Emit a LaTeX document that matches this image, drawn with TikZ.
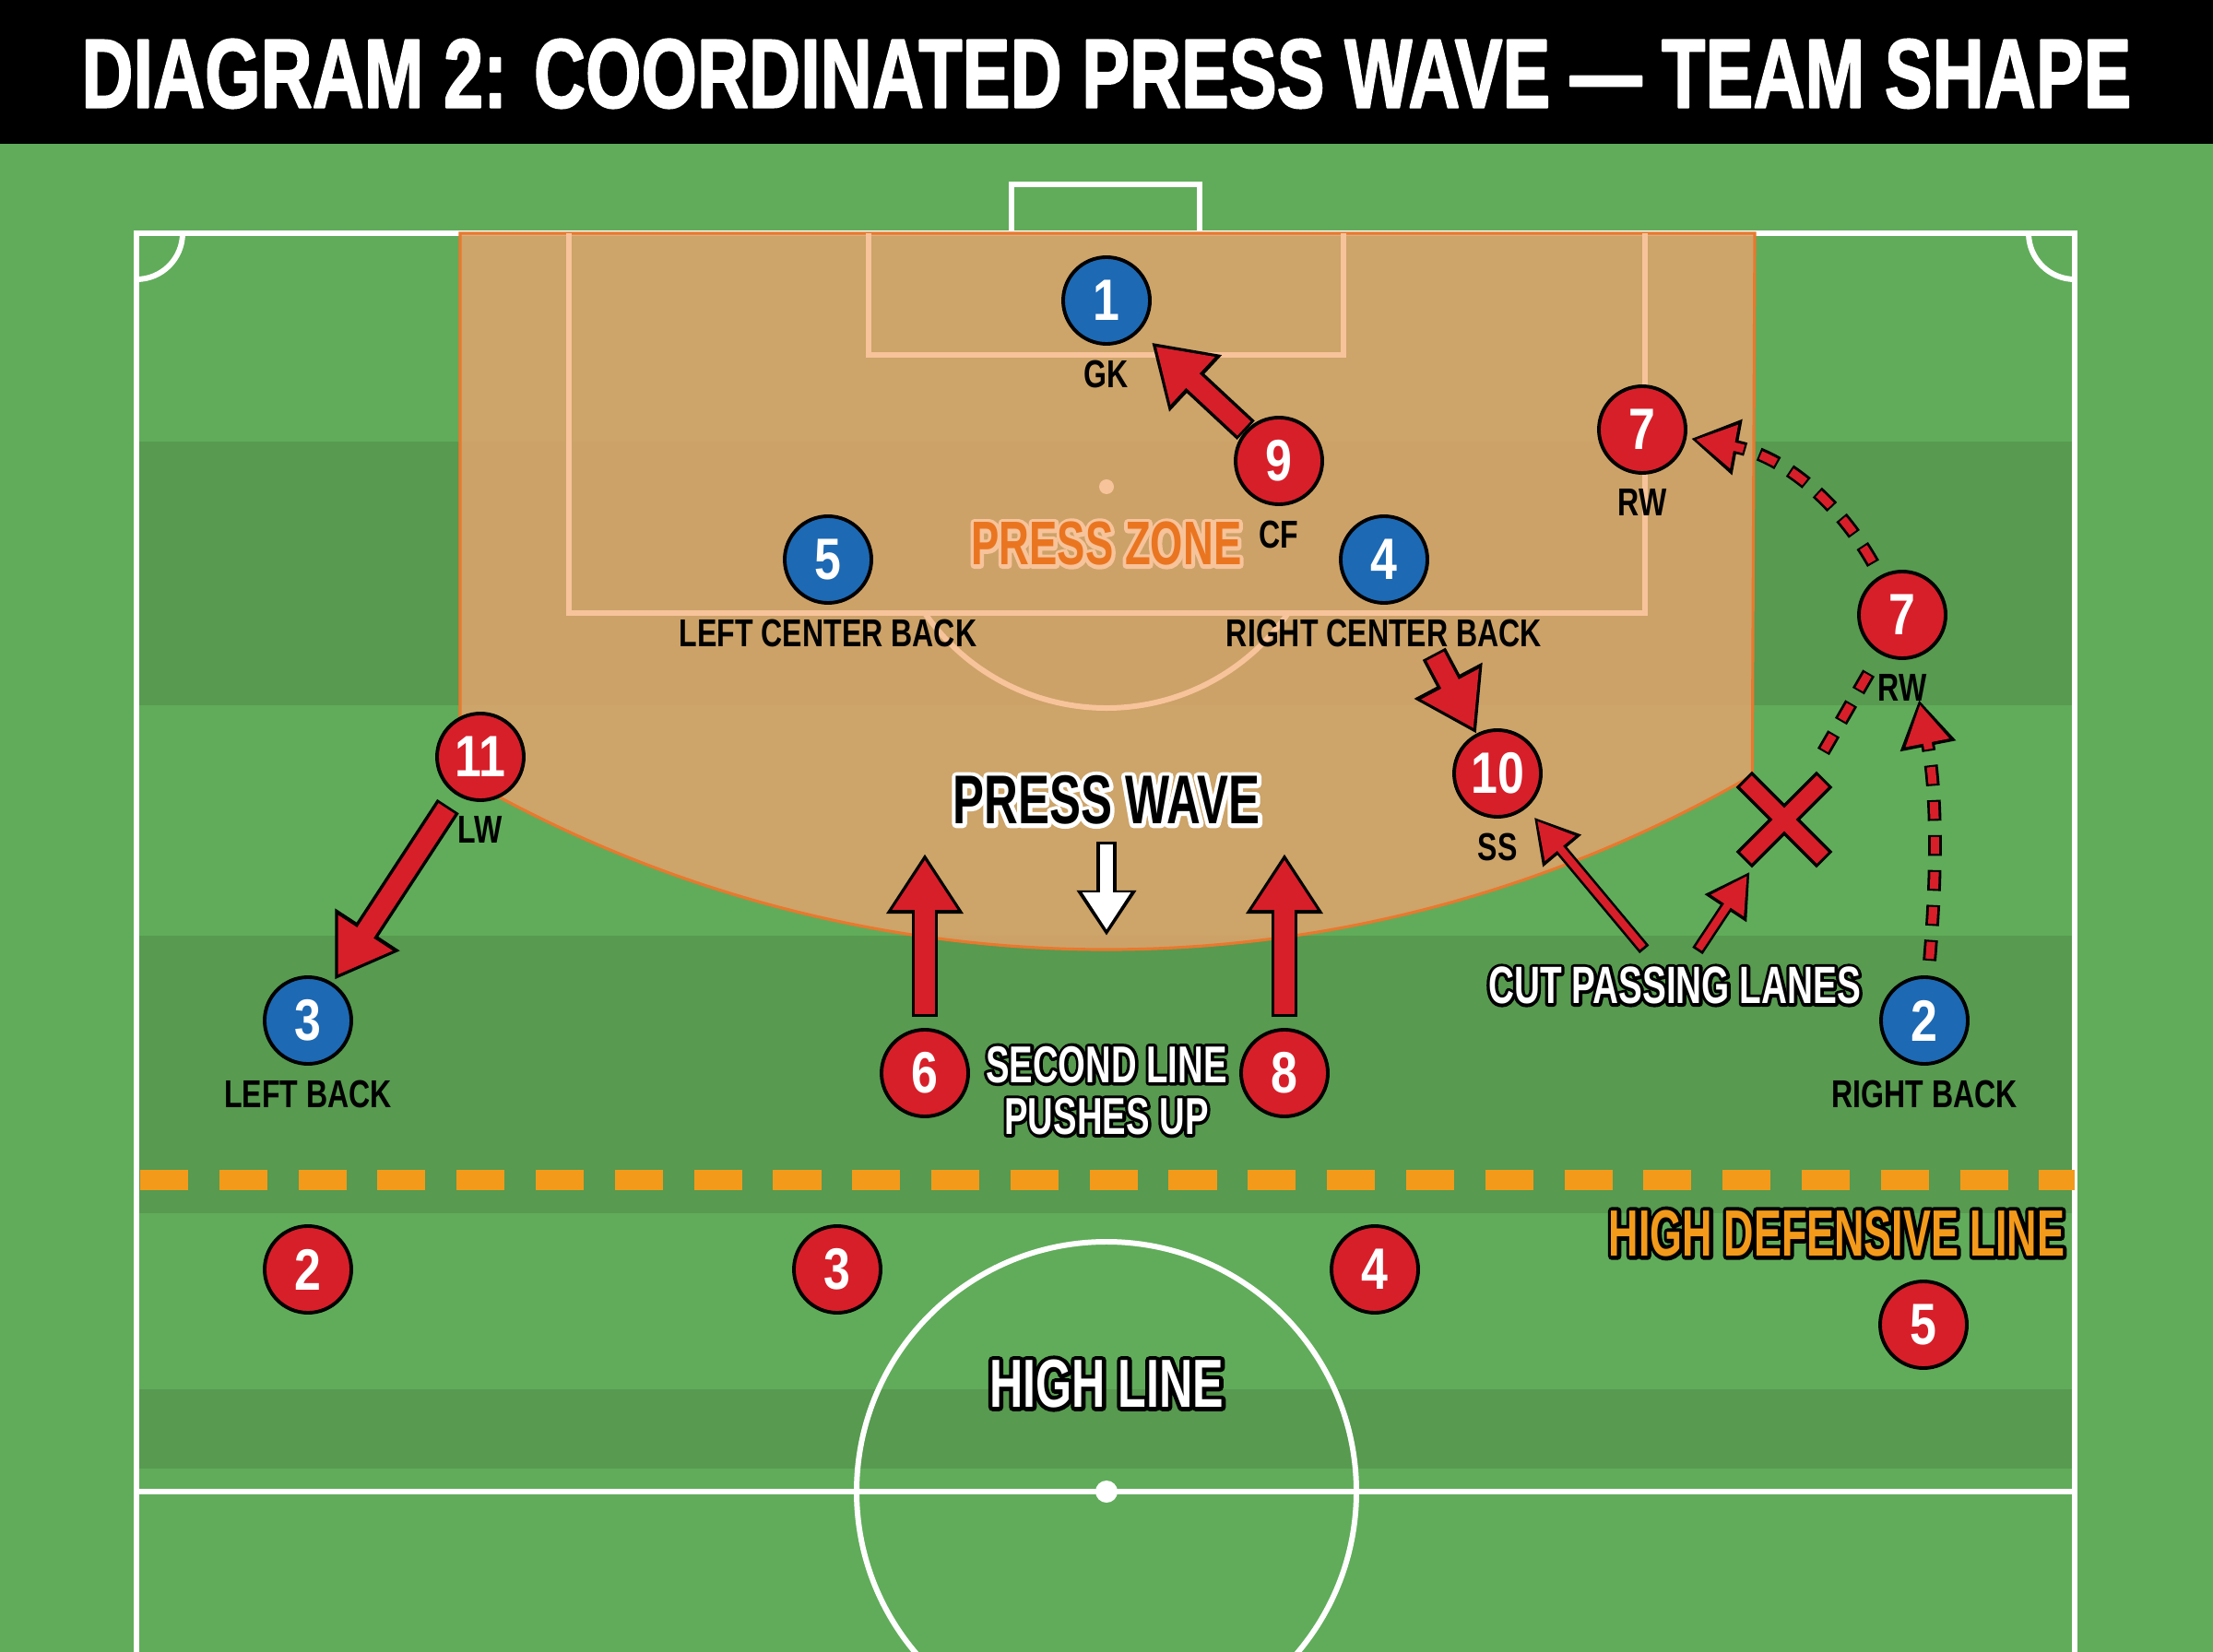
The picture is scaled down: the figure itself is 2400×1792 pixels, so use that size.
\documentclass[tikz,border=0pt]{standalone}
\usepackage{graphicx}
\usepackage{fontspec}
\setmainfont{Liberation Sans}
\newfontfamily\titlefont{Liberation Sans}[FakeBold=2]
\newfontfamily\dispfont{Liberation Sans}[FakeStretch=0.68]
\newfontfamily\dispfat{Liberation Sans}[FakeStretch=0.68, FakeBold=12]
\newfontfamily\lblfont{Liberation Sans}[FakeStretch=0.76]
\newfontfamily\numfont{Liberation Sans}[FakeStretch=0.82]
\usetikzlibrary{arrows.meta}

\definecolor{pitchlight}{HTML}{60AC5A}
\definecolor{pitchdark}{HTML}{579A50}
\definecolor{zonefill}{HTML}{DDA46C}
\definecolor{zoneedge}{HTML}{E8792F}
\definecolor{peach}{HTML}{F7C39A}
\definecolor{teamred}{HTML}{D71F2A}
\definecolor{teamblue}{HTML}{1D69B3}
\definecolor{lineorange}{HTML}{F39A1B}
\definecolor{zonetext}{HTML}{EA7520}

\pgfdeclarelayer{field}
\pgfdeclarelayer{moves}
\pgfsetlayers{field,moves,main}

% outline first, colour on top
\newcommand\duo[3]{\draw[#1] #3; \draw[#2] #3;}
% fat copy behind the text
\newcommand\halo[2]{\rlap{\dispfat\color{#1}#2}#2}

\begin{document}
\begin{tikzpicture}[x=0.01cm, y=-0.01cm,
    pitch/.style={white, line width=1.7pt},
    box/.style={peach, line width=1.7pt},
    player/.style={circle, draw=black, line width=1.1pt, minimum size=0.94cm, inner sep=0pt,
      text=white, font=\numfont\bfseries\fontsize{18pt}{18pt}\selectfont},
    att/.style={player, fill=teamred},
    opp/.style={player, fill=teamblue},
    every label/.style={inner sep=0pt, yshift=-0.15cm, text=black,
      font=\lblfont\bfseries\fontsize{12pt}{12pt}\selectfont},
    sign/.style={inner sep=0pt, line join=round, font=\dispfont\bfseries\fontsize{#1}{#1}\selectfont},
    fatout/.style={black, line width=8pt, -{Triangle[length=18.5pt,width=22.5pt]}},
    fatin/.style={teamred, line width=6pt, -{Triangle[length=15.5pt,width=19pt]}},
    thinout/.style={black, line width=3.8pt, -{Triangle[length=13.5pt,width=14.5pt]}},
    thinin/.style={teamred, line width=2.3pt, -{Triangle[length=11pt,width=11.5pt]}},
    dashout/.style={black, line width=4.2pt, dash pattern=on 6.4pt off 4.4pt, -{Triangle[length=14.5pt,width=16.5pt]}},
    dashin/.style={teamred, line width=2.6pt, dash pattern=on 5.2pt off 5.6pt, dash phase=10.2pt, -{Triangle[length=12pt,width=13pt]}},
    whiteout/.style={black, line width=6.5pt, -{Triangle[length=14pt,width=17.5pt]}},
    whitein/.style={white, line width=4.2pt, -{Triangle[length=11.5pt,width=14pt]}},
  ]
  \path[use as bounding box, clip] (0,0) rectangle (2400,1792);

  \begin{pgfonlayer}{field}
    \fill[pitchlight] (0,156) rectangle (2400,1792);
    \fill[black] (0,0) rectangle (2400,156);
    \foreach \ya/\yb in {479/765, 1015/1316, 1507/1593}
      \fill[pitchdark] (148,\ya) rectangle (2250,\yb);

    % markings
    \draw[pitch] (148,1800) -- (148,253) -- (2250,253) -- (2250,1800);
    \draw[pitch] (148,1618) -- (2250,1618);
    \draw[pitch] (1097,253) -- (1097,200) -- (1301,200) -- (1301,253);
    \draw[pitch] (198,253) arc[start angle=0, end angle=90, radius=50];
    \draw[pitch] (2250,303) arc[start angle=90, end angle=180, radius=50];
    \draw[pitch] (1200,1618) circle[radius=271];
    \fill[white] (1200,1618) circle[radius=12];

    % press zone
    \path[fill=zonefill, fill opacity=0.88, draw=zoneedge, line width=0.9pt]
      (499,253) -- (499,841) arc[start angle=120.2, end angle=59.8, radius=1393] -- (1903,253) -- cycle;
    \draw[box] (617,253) -- (617,665) -- (1784,665) -- (1784,253);
    \draw[box] (942,253) -- (942,385) -- (1457,385) -- (1457,253);
    \draw[box] (1397,665) arc[start angle=34.8, end angle=145.2, radius=240];
    \fill[peach] (1200,528) circle[radius=8];

    % high line
    \draw[lineorange, line width=6pt, dash pattern=on 14.8pt off 9.6pt] (152,1280) -- (2250,1280);
  \end{pgfonlayer}

  \node[text=white, inner sep=0pt, line join=round] (title) at (1200,80)
    {\resizebox{22.22cm}{0.74cm}{\titlefont\bfseries DIAGRAM 2: COORDINATED PRESS WAVE — TEAM SHAPE}};

  % blue side
  \node[opp, label=below:GK] (gk) at (1200,326) {1};
  \node[opp, label=below:LEFT CENTER BACK] (lcb) at (898,607) {5};
  \node[opp, label=below:RIGHT CENTER BACK] (rcb) at (1501,607) {4};
  \node[opp, label=below:LEFT BACK] (lb) at (334,1107) {3};
  \node[opp, label=below:RIGHT BACK] (rb) at (2087,1107) {2};

  % red side
  \node[att, label=below:CF] (cf) at (1387,500) {9};
  \node[att, label=below:RW] (rw1) at (1781,466) {7};
  \node[att, label=below:RW] (rw2) at (2063,667) {7};
  \node[att, label=below:SS] (ss) at (1624,839) {10};
  \node[att, label=below:LW] (lw) at (521,821) {11};
  \node[att] (cm6) at (1003,1164) {6};
  \node[att] (cm8) at (1393,1164) {8};
  \foreach \num/\xx/\yy in {2/334/1377, 3/908/1377, 4/1491/1377, 5/2086/1437}
    \node[att] (d\num) at (\xx,\yy) {\num};

  \node[sign=19pt, text=zonetext] (zonetag) at (1200,590) {\halo{peach}{PRESS ZONE}};
  \node[sign=21.3pt, text=black] (pwave) at (1200,868) {\halo{white}{PRESS WAVE}};
  \node[sign=16pt, text=white, align=center] (second) at (1200,1183)
    {\halo{black}{SECOND LINE}\\\halo{black}{PUSHES UP}};
  \node[sign=16.2pt, text=white] (cut) at (1816,1069) {\halo{black}{CUT PASSING LANES}};
  \node[sign=20.2pt, text=lineorange] (hdl) at (1992,1338)
    {\scalebox{0.93}[1]{\halo{black}{HIGH DEFENSIVE LINE}}};
  \node[sign=21pt, text=white] (highline) at (1200,1501) {\halo{black}{HIGH LINE}};

  \node[minimum size=0.86cm, inner sep=0pt] (xmark) at (1935,889) {};
  \coordinate (tip6) at (1003,926);
  \coordinate (tip8) at (1393,926);
  \coordinate (pwtip) at (1200,1015);

  \begin{pgfonlayer}{moves}
    \duo{fatout, shorten >=5.1pt}{fatin, shorten <=0.8pt, shorten >=6.9pt}{(cf) -- (gk)}
    \duo{fatout, shorten <=4.3pt, shorten >=1.1pt}{fatin, shorten <=5.1pt, shorten >=2.9pt}{(lw) -- (lb)}
    \duo{fatout, shorten <=19pt}{fatin, shorten <=19.8pt, shorten >=1.8pt}{(rcb) -- (ss)}
    \duo{fatout, shorten <=3.4pt}{fatin, shorten <=4.2pt, shorten >=1.8pt}{(cm6) -- (tip6)}
    \duo{fatout, shorten <=3.4pt}{fatin, shorten <=4.2pt, shorten >=1.8pt}{(cm8) -- (tip8)}
    \duo{whiteout, shorten <=5pt}{whitein, shorten <=5.8pt, shorten >=1.8pt}{(pwave) -- (pwtip)}
    \duo{thinout, shorten <=6.8pt, shorten >=3.7pt}{thinin, shorten <=7.6pt, shorten >=5.2pt}{(cut) -- (ss)}
    \duo{thinout, shorten <=5.7pt, shorten >=4.4pt}{thinin, shorten <=6.5pt, shorten >=5.9pt}{(cut) -- (xmark)}
    \duo{dashout, shorten <=4.3pt, shorten >=1.4pt}{dashin, shorten <=4.3pt, shorten >=2.9pt}{(rw2) to[bend right=25] (rw1)}
    \duo{dashout, -, shorten <=6.8pt, shorten >=5.4pt}{dashin, -, shorten <=6.8pt, shorten >=5.4pt}{(rw2) -- (xmark)}
    \duo{dashout, shorten <=4.6pt, shorten >=12.8pt}{dashin, shorten <=4.6pt, shorten >=14.3pt}{(rb) to[bend right=8] (rw2)}
    % the cut lane
    \foreach \a/\b in {north west/south east, north east/south west}
      \draw[black, line width=7pt] (xmark.\a) -- (xmark.\b);
    \foreach \a/\b in {north west/south east, north east/south west}
      \draw[teamred, line width=5pt, shorten <=0.9pt, shorten >=0.9pt] (xmark.\a) -- (xmark.\b);
  \end{pgfonlayer}
\end{tikzpicture}
\end{document}
